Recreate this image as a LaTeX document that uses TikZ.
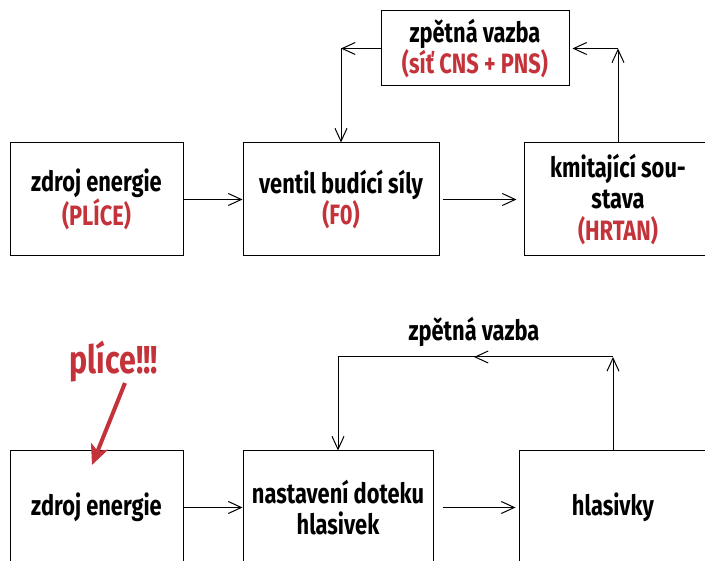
\documentclass[tikz,border=0pt]{standalone}
\usepackage{fontspec}
\newfontfamily\condfont{Fira Sans}[FakeStretch=0.78]
\usetikzlibrary{arrows.meta, calc}
\definecolor{plicered}{RGB}{196,50,58}

\begin{document}
\begin{tikzpicture}[x=1pt, y=-1pt, line width=1pt,
  font=\condfont\bfseries\fontsize{28}{31.5}\selectfont,
  blok/.style={draw, rectangle, align=center, minimum height=113pt, inner sep=0pt},
  sipka/.style={-{Straight Barb[length=13pt,width=12pt]}}]
\useasboundingbox (0,0) rectangle (705,561);
\clip (0,0) rectangle (705,561);

% horni schema
\node[blok, minimum width=173pt] (zdroj1) at (96.5,199.5) {zdroj energie\\\textcolor{plicered}{(PLÍCE)}};
\node[blok, minimum width=196pt] (ventil) at (341,199.5) {ventil budící síly\\\textcolor{plicered}{(F0)}};
\node[blok, minimum width=188pt] (kmit) at (618,199.5) {kmitající sou-\\stava\\\textcolor{plicered}{(HRTAN)}};
\node[blok, minimum width=188pt, minimum height=75pt] (vazba1) at (475,48.5) {zpětná vazba\\\textcolor{plicered}{(síť CNS + PNS)}};

\coordinate (roh1) at (ventil.north |- vazba1.west);
\coordinate (roh2) at (kmit.north |- vazba1.east);

\draw[sipka] (zdroj1.east) -- (ventil.west);
\draw[sipka, shorten <=3pt, shorten >=7pt] (ventil.east) -- (kmit.west);
\draw[sipka] (vazba1.west) -- (roh1);
\draw[sipka] (roh1) -- (ventil.north);
\draw[sipka] (kmit.north) -- (roh2);
\draw[sipka, shorten >=3pt] (roh2) -- (vazba1.east);

% dolni schema
\node[blok, minimum width=173pt] (zdroj2) at (96.5,507.5) {zdroj energie};
\node[blok, minimum width=190pt] (dotek) at (338,507.5) {nastavení doteku\\hlasivek};
\node[blok, minimum width=188pt] (hlasivky) at (613,507.5) {hlasivky};
\node (vazba2) at (474,332) {zpětná vazba};

\coordinate (roh3) at (hlasivky.north |- 0,357);
\coordinate (roh4) at (dotek.north |- 0,357);

\draw[sipka] (zdroj2.east) -- (dotek.west);
\draw[sipka, shorten <=9pt, shorten >=3pt] (dotek.east) -- (hlasivky.west);
\draw[sipka] (hlasivky.north) -- (roh3);
\draw (roh3) -- (roh4);
\draw[sipka] (roh3) -- (vazba2 |- roh3);
\draw[sipka] (roh4) -- (dotek.north);

% plice
\node[text=plicered, font=\condfont\bfseries\fontsize{39}{44}\selectfont] (plice) at (114,362) {plíce!!!};
\coordinate (pstart) at (125,383);
\coordinate (ptip) at (92,465);
\draw[plicered, line width=4pt, -{Stealth[length=20pt,width=18pt,inset=5pt]}] (pstart) -- (ptip);
\end{tikzpicture}
\end{document}
